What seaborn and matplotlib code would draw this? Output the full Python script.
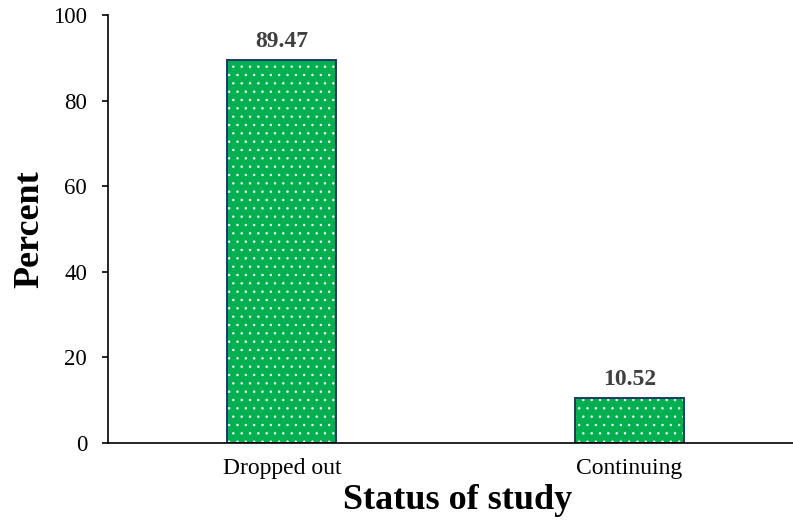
import matplotlib
matplotlib.use("Agg")
import matplotlib.pyplot as plt
import seaborn as sns
import pandas as pd

categories = ["Dropped out", "Continuing"]
percent = [89.47, 10.52]

df = pd.DataFrame({"status": categories, "percent": percent})

sns.set_style("white")
plt.rcParams["font.family"] = ["Liberation Serif", "DejaVu Serif"]
plt.rcParams["hatch.linewidth"] = 0.5
plt.rcParams["text.color"] = "black"
plt.rcParams["axes.labelcolor"] = "black"
plt.rcParams["xtick.color"] = "black"
plt.rcParams["ytick.color"] = "black"

fig = plt.figure(figsize=(7.93, 5.23), dpi=100)
ax = fig.add_axes([108 / 793, 80 / 523, 685 / 793, 428 / 523])

green = "#00B050"
edge = "#1F3864"

# filled bars with white dot texture
sns.barplot(data=df, x="status", y="percent", color=green, width=0.313,
            saturation=1, hatch="..", edgecolor="white", linewidth=0, ax=ax)
# outlines on top
sns.barplot(data=df, x="status", y="percent", fill=False, width=0.313,
            edgecolor=edge, linewidth=1.4, ax=ax)

for x, v in enumerate(percent):
    ax.text(x, v + 3.0, f"{v:.2f}", ha="center", va="baseline",
            fontsize=17, fontweight="bold", color="#404040")

ax.set_xlim(-0.5, 1.47)
ax.set_ylim(0, 100)
ax.set_yticks([0, 20, 40, 60, 80, 100])
ax.tick_params(axis="y", direction="out", length=4.5, width=1.2,
               labelsize=16.5, left=True, pad=10.5)
ax.tick_params(axis="x", length=0, labelsize=17, pad=11)

for s in ["top", "right"]:
    ax.spines[s].set_visible(False)
for s in ["left", "bottom"]:
    ax.spines[s].set_color("black")
    ax.spines[s].set_linewidth(1.2)

ax.set_xlabel("Status of study", fontsize=26, fontweight="bold", labelpad=3.5)
ax.set_ylabel("Percent", fontsize=26, fontweight="bold", labelpad=5)
ax.xaxis.label.set_x(0.51)

fig.savefig("out.png", dpi=100)
